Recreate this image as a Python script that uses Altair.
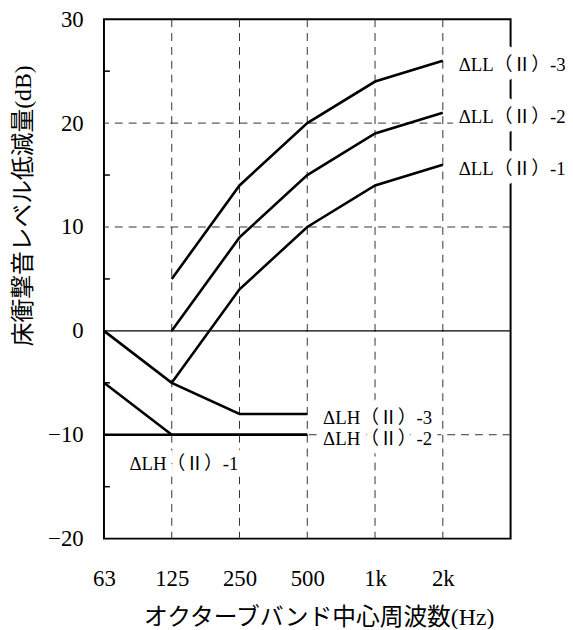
import json
import altair as alt
import pandas as pd

freq_labels = ["63", "125", "250", "500", "1k", "2k"]
freq_index = [0, 1, 2, 3, 4, 5]

series_names = ["ΔLL(Ⅱ)-3", "ΔLL(Ⅱ)-2", "ΔLL(Ⅱ)-1",
                "ΔLH(Ⅱ)-3", "ΔLH(Ⅱ)-2", "ΔLH(Ⅱ)-1"]
ll3 = [None, 5, 14, 20, 24, 26]
ll2 = [None, 0, 9, 15, 19, 21]
ll1 = [None, -5, 4, 10, 14, 16]
lh3 = [0, -5, -8, -8, None, None]
lh2 = [-5, -10, -10, -10, None, None]
lh1 = [-10, -10, -10, -10, None, None]
series_values = [ll3, ll2, ll1, lh3, lh2, lh1]

label_texts = ["ΔLL（Ⅱ）-3", "ΔLL（Ⅱ）-2", "ΔLL（Ⅱ）-1",
               "ΔLH（Ⅱ）-3", "ΔLH（Ⅱ）-2", "ΔLH（Ⅱ）-1"]
label_x = [5, 5, 5, 3, 3, 1.18]
label_y = [26, 21, 16, -8, -10, -12.4]
label_align = ["left", "left", "left", "left", "left", "center"]

y_ticks = [-20, -10, 0, 10, 20, 30]
y_grid = [-10, 10, 20]
y_minor = [25, 15, 5, -5, -15]
x_grid = [1, 2, 3, 4, 5]

FONT = "Liberation Serif, Noto Sans CJK JP"

rows = []
for name, vals in zip(series_names, series_values):
    for i, v in zip(freq_index, vals):
        if v is not None:
            rows.append({"series": name, "idx": i, "value": v})
df = pd.DataFrame(rows)

lab = pd.DataFrame({"text": label_texts, "x": label_x, "y": label_y,
                    "align": label_align})
lab_left = lab[lab["align"] == "left"]
lab_center = lab[lab["align"] == "center"]

xscale = alt.Scale(domain=[0, 6], nice=False, zero=False)
yscale = alt.Scale(domain=[-20, 30], nice=False, zero=False)

label_expr = json.dumps(freq_labels) + "[datum.value]"

base_x = alt.X("idx:Q", scale=xscale, axis=alt.Axis(
    values=freq_index, labelExpr=label_expr, grid=False, ticks=False,
    domain=False, labelFont=FONT, labelFontSize=23, labelColor="black",
    labelPadding=40, labelBaseline="middle", labelFlush=False,
    title="オクターブバンド中心周波数(Hz)", titleFont=FONT, titleFontSize=24,
    titleFontWeight="normal", titleColor="black", titleY=80, titleX=217,
    titleAlign="center", titleBaseline="middle"))
base_y = alt.Y("value:Q", scale=yscale, axis=alt.Axis(
    values=y_ticks, grid=False, ticks=False, domain=False,
    labelFont=FONT, labelFontSize=23, labelColor="black", labelPadding=21,
    labelFlush=False,
    title="床衝撃音レベル低減量(dB)", titleFont=FONT, titleFontSize=24,
    titleFontWeight="normal", titleColor="black", titleX=-81, titleY=188,
    titleAngle=-90, titleBaseline="middle", titleAlign="center"))

vgrid = alt.Chart(pd.DataFrame({"g": x_grid})).mark_rule(
    color="#333", strokeWidth=1, strokeDash=[8, 6]
).encode(x=alt.X("g:Q", scale=xscale))

hgrid = alt.Chart(pd.DataFrame({"g": y_grid})).mark_rule(
    color="#333", strokeWidth=1, strokeDash=[8, 6]
).encode(y=alt.Y("g:Q", scale=yscale))

zero = alt.Chart(pd.DataFrame({"g": [0]})).mark_rule(
    color="black", strokeWidth=1.2
).encode(y=alt.Y("g:Q", scale=yscale))

minor = alt.Chart(pd.DataFrame({"g": y_minor})).mark_rule(
    color="black", strokeWidth=1.5
).encode(y=alt.Y("g:Q", scale=yscale), x=alt.value(0), x2=alt.value(6))

lines = alt.Chart(df).mark_line(color="black", strokeWidth=2.6).encode(
    x=base_x, y=base_y, detail="series:N")


def text_layer(data, align, dx, halo):
    kw = dict(font=FONT, fontSize=19, baseline="middle", align=align,
              dx=dx, dy=4)
    if halo:
        kw.update(stroke="white", strokeWidth=13, color="white")
    else:
        kw.update(color="black")
    return alt.Chart(data).mark_text(**kw).encode(
        x=alt.X("x:Q", scale=xscale), y=alt.Y("y:Q", scale=yscale),
        text="text:N")


layers = [vgrid, hgrid, zero,
          text_layer(lab_left, "left", 16, True),
          text_layer(lab_center, "center", 0, True),
          text_layer(lab_left, "left", 16, False),
          text_layer(lab_center, "center", 0, False),
          lines, minor]

chart = alt.layer(*layers).properties(
    width=411, height=525,
    background="white",
    autosize=alt.AutoSizeParams(type="none"),
    padding={"left": 97, "top": 8, "right": 55, "bottom": 88},
).configure_view(stroke="black", strokeWidth=2)

chart.save("out.html", embed_options={"renderer": "svg", "actions": False})
